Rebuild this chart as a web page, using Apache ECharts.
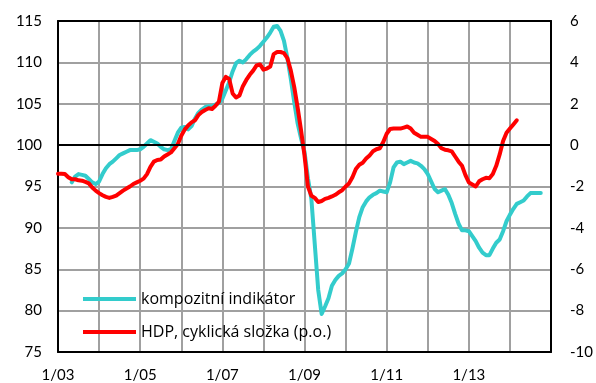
<!DOCTYPE html>
<html>
<head>
<meta charset="utf-8">
<script src="https://cdn.jsdelivr.net/npm/echarts@6/dist/echarts.min.js"></script>
<style>
  html, body { margin: 0; padding: 0; background: #fff; }
  #chart { width: 596px; height: 383px; }
</style>
</head>
<body>
<div id="chart"></div>
<script>
// Monthly axis: January 2003 through January 2015
const firstYear = 2003;
const monthCount = 145;
const months = [];
for (let i = 0; i < monthCount; i++) {
  const y = firstYear + Math.floor(i / 12);
  const m = (i % 12) + 1;
  months.push(m + '/' + String(y % 100).padStart(2, '0'));
}
// Labels written under every second January
const xTickLabels = ['1/03', '1/05', '1/07', '1/09', '1/11', '1/13'];

// Composite indicator (left axis), monthly from 1/03; first months not available
const kompozitni = [
  null, null, null, null,
  95.5, 96.2, 96.5, 96.4, 96.3, 95.9, 95.5, 95.3,
  95.6, 96.5, 97.2, 97.7, 98.0, 98.4, 98.8, 99.0, 99.2, 99.4, 99.4, 99.4,
  99.5, 99.8, 100.2, 100.6, 100.4, 100.2, 99.8, 99.5, 99.4, 99.5, 100.5, 101.5,
  102.1, 102.2, 101.9, 102.3, 103.2, 103.9, 104.3, 104.6, 104.7, 104.7, 104.9, 105.1,
  105.6, 106.6, 107.6, 108.9, 109.9, 110.2, 110.0, 110.4, 110.9, 111.3, 111.6, 112.0,
  112.5, 113.0, 113.6, 114.3, 114.4, 113.8, 112.6, 110.5, 108.0, 105.2, 102.6, 100.8,
  99.2, 96.0, 93.5, 88.0, 82.5, 79.6, 80.5, 81.5, 83.0, 83.7, 84.2, 84.5,
  85.0, 85.7, 87.5, 89.5, 91.3, 92.5, 93.2, 93.7, 94.0, 94.2, 94.5, 94.4,
  94.3, 95.5, 97.3, 97.9, 98.0, 97.7, 97.9, 98.1, 97.9, 97.8, 97.5, 97.1,
  96.5, 95.6, 94.7, 94.3, 94.5, 94.7, 94.0, 93.0, 91.7, 90.5, 89.7, 89.7,
  89.6, 89.0, 88.4, 87.6, 87.0, 86.7, 86.7, 87.5, 88.2, 88.6, 89.6, 90.8,
  91.6, 92.3, 92.9, 93.1, 93.3, 93.8, 94.2, 94.2, 94.2, 94.2
];

// GDP cyclical component in % (right axis), monthly from 1/03
const hdpCyklicka = [
  -1.38, -1.38, -1.40, -1.55, -1.65, -1.65, -1.70, -1.72, -1.78, -1.85, -2.05, -2.20,
  -2.32, -2.42, -2.50, -2.55, -2.50, -2.44, -2.32, -2.20, -2.10, -2.00, -1.88, -1.80,
  -1.72, -1.62, -1.40, -1.05, -0.80, -0.72, -0.70, -0.55, -0.45, -0.35, -0.15, 0.05,
  0.45, 0.75, 0.95, 1.10, 1.20, 1.45, 1.60, 1.70, 1.78, 1.75, 1.90, 2.10,
  3.00, 3.30, 3.20, 2.50, 2.30, 2.40, 2.85, 3.15, 3.40, 3.60, 3.85, 3.90,
  3.65, 3.70, 3.80, 4.40, 4.50, 4.50, 4.45, 4.20, 3.60, 2.80, 1.80, 0.70,
  -0.50, -2.00, -2.45, -2.55, -2.75, -2.70, -2.60, -2.55, -2.48, -2.40, -2.28, -2.18,
  -2.00, -1.85, -1.55, -1.15, -0.95, -0.85, -0.65, -0.50, -0.30, -0.20, -0.15, 0.15,
  0.55, 0.78, 0.80, 0.80, 0.80, 0.85, 0.90, 0.80, 0.60, 0.50, 0.40, 0.40,
  0.40, 0.30, 0.20, 0.05, -0.15, -0.22, -0.25, -0.30, -0.55, -0.80, -1.00, -1.45,
  -1.80, -1.90, -2.00, -1.75, -1.65, -1.58, -1.60, -1.40, -1.00, -0.45, 0.20, 0.60,
  0.80, 1.00, 1.20
];

const leftTicks = { min: 75, max: 115, step: 5 };
const rightTicks = { min: -10, max: 6, step: 2 };
const referenceLevel = 100;

const seriesNames = ['kompozitní indikátor', 'HDP, cyklická složka (p.o.)'];
const teal = '#33CCCC';
const red = '#FF0000';
const font = 'Lato, "Open Sans", sans-serif';
const legendFont = '"Open Sans", Lato, sans-serif';

const chart = echarts.init(document.getElementById('chart'), null, { renderer: 'canvas' });

const frameLine = { show: true, onZero: false, lineStyle: { color: '#000', width: 2 } };
const legendText = { fontFamily: legendFont, fontSize: 16, color: '#000' };

chart.setOption({
  animation: false,
  backgroundColor: '#fff',
  textStyle: { fontFamily: font, color: '#000' },
  grid: { left: 58, right: 43, top: 21, bottom: 31, containLabel: false },
  legend: [
    {
      data: [seriesNames[0]], left: 78, top: 286, icon: 'rect',
      itemWidth: 53, itemHeight: 4, textStyle: legendText
    },
    {
      data: [seriesNames[1]], left: 78, top: 319, icon: 'rect',
      itemWidth: 53, itemHeight: 4, textStyle: legendText
    }
  ],
  xAxis: [
    {
      type: 'category', data: months, boundaryGap: false, position: 'bottom',
      axisLine: frameLine, axisTick: { show: false },
      axisLabel: {
        interval: (i) => i % 24 === 0 && xTickLabels.includes(months[i]),
        margin: 16, fontSize: 15, fontFamily: font, color: '#000'
      },
      splitLine: {
        show: true,
        interval: (i) => i % 12 === 0 && i > 0 && i < monthCount - 1,
        lineStyle: { color: '#A0A0A0', width: 2 }
      }
    },
    {
      type: 'category', data: months, boundaryGap: false, position: 'top',
      axisLine: frameLine, axisTick: { show: false }, axisLabel: { show: false },
      splitLine: { show: false }
    }
  ],
  yAxis: [
    {
      type: 'value', position: 'left',
      min: leftTicks.min, max: leftTicks.max, interval: leftTicks.step,
      axisLine: frameLine, axisTick: { show: false },
      axisLabel: { margin: 16, fontSize: 15, fontFamily: font, color: '#000' },
      splitLine: { show: true, lineStyle: { color: '#A0A0A0', width: 2 } }
    },
    {
      type: 'value', position: 'right',
      min: rightTicks.min, max: rightTicks.max, interval: rightTicks.step,
      axisLine: frameLine, axisTick: { show: false },
      axisLabel: { margin: 19, fontSize: 15, fontFamily: font, color: '#000', align: 'left' },
      splitLine: { show: false }
    }
  ],
  series: [
    {
      name: seriesNames[0], type: 'line', yAxisIndex: 0, data: kompozitni,
      showSymbol: false, symbol: 'none', smooth: false,
      lineStyle: { color: teal, width: 4, join: 'round', cap: 'round' },
      itemStyle: { color: teal },
      markLine: {
        silent: true, symbol: 'none', label: { show: false },
        lineStyle: { color: '#000', width: 2, type: 'solid' },
        data: [{ yAxis: referenceLevel }]
      }
    },
    {
      name: seriesNames[1], type: 'line', yAxisIndex: 1, data: hdpCyklicka,
      showSymbol: false, symbol: 'none', smooth: false,
      lineStyle: { color: red, width: 4, join: 'round', cap: 'round' },
      itemStyle: { color: red }
    }
  ]
});
</script>
</body>
</html>
